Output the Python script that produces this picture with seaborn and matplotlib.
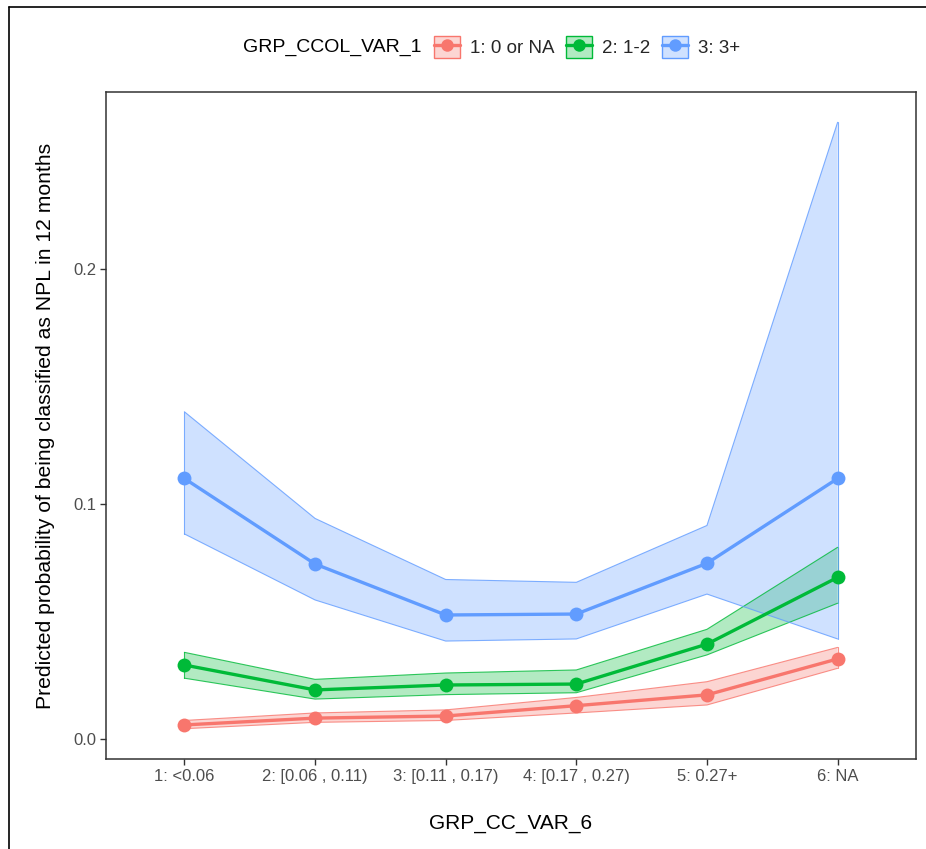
import matplotlib
matplotlib.use("Agg")
import matplotlib.pyplot as plt
from matplotlib.lines import Line2D
from matplotlib.patches import Patch
import seaborn as sns
import pandas as pd
import numpy as np

categories = ["1: <0.06", "2: [0.06 , 0.11)", "3: [0.11 , 0.17)",
              "4: [0.17 , 0.27)", "5: 0.27+", "6: NA"]
groups = ["1: 0 or NA", "2: 1-2", "3: 3+"]

est_g1 = [0.0061, 0.0090, 0.0099, 0.0143, 0.0189, 0.0342]
lo_g1 = [0.0045, 0.0072, 0.0080, 0.0112, 0.0146, 0.0302]
hi_g1 = [0.0080, 0.0112, 0.0125, 0.0178, 0.0245, 0.0391]

est_g2 = [0.0316, 0.0210, 0.0231, 0.0235, 0.0405, 0.0689]
lo_g2 = [0.0260, 0.0171, 0.0190, 0.0198, 0.0359, 0.0579]
hi_g2 = [0.0370, 0.0255, 0.0282, 0.0295, 0.0468, 0.0817]

est_g3 = [0.1110, 0.0746, 0.0529, 0.0533, 0.0749, 0.1110]
lo_g3 = [0.0874, 0.0593, 0.0418, 0.0427, 0.0618, 0.0427]
hi_g3 = [0.1394, 0.0940, 0.0680, 0.0668, 0.0910, 0.2626]

colors = ["#F8766D", "#00BA38", "#619CFF"]

ests = [est_g1, est_g2, est_g3]
los = [lo_g1, lo_g2, lo_g3]
his = [hi_g1, hi_g2, hi_g3]

rows = []
for g, e, l, h in zip(groups, ests, los, his):
    for i, c in enumerate(categories):
        rows.append({"GRP_CC_VAR_6": c, "pos": i, "GRP_CCOL_VAR_1": g,
                     "est": e[i], "lo": l[i], "hi": h[i]})
df = pd.DataFrame(rows)

sns.set_theme(style="white")
plt.rcParams["font.family"] = ["Liberation Sans", "DejaVu Sans"]

fig = plt.figure(figsize=(9.26, 8.49), dpi=100)
ax = fig.add_axes([106/926, 90/849, (916-106)/926, (759-92)/849])

# ribbons
for g, col in zip(groups, colors):
    sub = df[df["GRP_CCOL_VAR_1"] == g]
    ax.fill_between(sub["pos"], sub["lo"], sub["hi"], facecolor=col, alpha=0.3,
                    edgecolor="none", zorder=1)
    ax.plot(sub["pos"], sub["lo"], color=col, lw=0.8, alpha=0.8, zorder=1.5)
    ax.plot(sub["pos"], sub["hi"], color=col, lw=0.8, alpha=0.8, zorder=1.5)
    ax.plot([sub["pos"].iloc[0]] * 2, [sub["lo"].iloc[0], sub["hi"].iloc[0]],
            color=col, lw=0.8, alpha=0.8, zorder=1.5)
    ax.plot([sub["pos"].iloc[-1]] * 2, [sub["lo"].iloc[-1], sub["hi"].iloc[-1]],
            color=col, lw=0.8, alpha=0.8, zorder=1.5)

sns.lineplot(data=df, x="pos", y="est", hue="GRP_CCOL_VAR_1", hue_order=groups,
             palette=colors, lw=2.4, marker="o", markersize=10, markeredgewidth=0,
             legend=False, ax=ax, zorder=3)

ax.set_xlim(-0.6, 5.6)
ax.set_ylim(-0.0084, 0.2755)
ax.set_xticks(range(len(categories)))
ax.set_xticklabels(categories)
ax.set_yticks([0.0, 0.1, 0.2])
ax.set_yticklabels(["0.0", "0.1", "0.2"])
ax.tick_params(axis="both", which="both", length=4, width=1, color="#333333",
               labelsize=12, labelcolor="#4D4D4D", bottom=True, left=True, pad=3)
for s in ax.spines.values():
    s.set_color("#333333")
    s.set_linewidth(1.1)
ax.set_xlabel("GRP_CC_VAR_6", fontsize=15, color="black", labelpad=22)
ax.set_ylabel("Predicted probability of being classified as NPL in 12 months",
              fontsize=15.2, color="black", labelpad=13)
ax.grid(False)

# legend
handles = []
for col in colors:
    handles.append((Patch(facecolor=col, alpha=0.3, edgecolor="none"),
                    Patch(facecolor="none", edgecolor=col, lw=1.0),
                    Line2D([0], [0], color=col, lw=2.4, marker="o",
                           markersize=9, markeredgewidth=0)))
fig.text(243/926, 1 - 47/849, "GRP_CCOL_VAR_1", fontsize=14, va="center",
         ha="left", color="black")
fig.legend(handles, groups, loc="center left", bbox_to_anchor=(421/926, 1 - 47/849),
           ncol=3, frameon=False, fontsize=13.5, handlelength=1.4, handleheight=1.4,
           handletextpad=0.53, columnspacing=0.6, borderpad=0.2)

# outer border (top and left)
fig.add_artist(Line2D([9/926, 1.0], [1 - 7/849, 1 - 7/849], color="black", lw=1.2,
                      transform=fig.transFigure))
fig.add_artist(Line2D([9/926, 9/926], [0.0, 1 - 7/849], color="black", lw=1.2,
                      transform=fig.transFigure))

fig.savefig("out.png", dpi=100, facecolor="white")
